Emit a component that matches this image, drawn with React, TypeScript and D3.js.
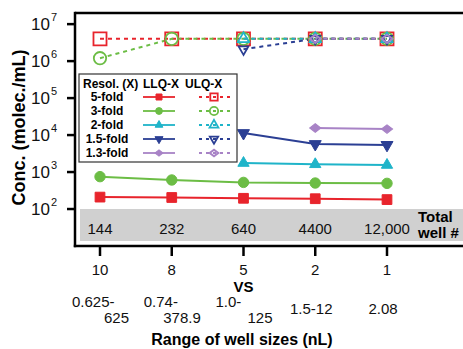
import React from 'react';
import * as d3 from 'd3';

// categories (valves per well set) and well info
const vsLabels = ['10', '8', '5', '2', '1'];
const totalWells = ['144', '232', '640', '4400', '12,000'];
const rangeLabels = [['0.625-', '625'], ['0.74-', '378.9'], ['1.0-', '125'], ['1.5-12'], ['2.08']];
const yTicks = [2, 3, 4, 5, 6, 7];

const resolutions = ['5-fold', '3-fold', '2-fold', '1.5-fold', '1.3-fold'];
const colors = ['#e8242c', '#6cbd45', '#1fb4c9', '#2b3f94', '#a883c6'];

// lower limit of quantification (null = no point)
const llq5 = [210, 205, 195, 190, 180];
const llq3 = [750, 610, 525, 505, 495];
const llq2 = [null, null, 1750, 1620, 1550];
const llq15 = [null, null, 11300, 5700, 5400];
const llq13 = [null, null, null, 15500, 14500];

// upper limit of quantification
const ulq5 = [4e6, 4e6, 4e6, 4e6, 4e6];
const ulq3 = [1.2e6, 4e6, 4e6, 4e6, 4e6];
const ulq2 = [null, null, 4e6, 4e6, 4e6];
const ulq15 = [null, null, 2.1e6, 4e6, 4e6];
const ulq13 = [null, null, null, 4e6, 4e6];

const llqSeries = [llq5, llq3, llq2, llq15, llq13];
const ulqSeries = [ulq5, ulq3, ulq2, ulq15, ulq13];

const font = '"Liberation Sans", Arial, sans-serif';

// diamond drawn as a rotated square, squashed
const symbolTypes = [d3.symbolSquare, d3.symbolCircle, d3.symbolTriangle, d3.symbolTriangle, d3.symbolSquare];
const transforms = ['', '', '', 'rotate(180)', 'scale(1.3,1) rotate(45)'];
const llqSizes = [95, 85, 55, 62, 36];
const ulqSizes = [170, 120, 55, 42, 34];
const legendLlq = [36, 36, 26, 28, 18];
const legendUlq = [55, 55, 34, 30, 22];

const Marker = ({ i, x, y, size, open }: { i: number; x: number; y: number; size: number; open: boolean }) => {
  const p = d3.symbol().type(symbolTypes[i]).size(size)() as string;
  return (
    <path
      d={p}
      transform={`translate(${x},${y}) ${transforms[i]}`}
      fill={open ? 'white' : colors[i]}
      fillOpacity={open ? 0 : 1}
      stroke={colors[i]}
      strokeWidth={open ? 1.8 : 1}
    />
  );
};

const App = () => {
  const left = 75, top = 13, right = 463, bottom = 246;
  const x = d3.scalePoint<string>().domain(vsLabels).range([100, 387]);
  const y = d3.scaleLog().domain([10, 2e7]).range([bottom, top]);

  const line = d3
    .line<[string, number | null]>()
    .defined((d) => d[1] != null)
    .x((d) => x(d[0]) as number)
    .y((d) => y(d[1] as number));

  const pts = (vals: (number | null)[]) => vsLabels.map((c, j) => [c, vals[j]] as [string, number | null]);

  return (
    <svg width={463} height={349} style={{ position: 'absolute', left: 0, top: 0, fontFamily: font }}>
      <rect width={463} height={349} fill="white" />

      {/* total well band */}
      <rect x={80} y={y(100)} width={383} height={241 - y(100)} fill="#d0d0d0" />
      {totalWells.map((t, j) => (
        <text key={t} x={x(vsLabels[j])} y={234} fontSize={15} textAnchor="middle" fill="#111">{t}</text>
      ))}
      <text x={418} y={222} fontSize={15} fontWeight="bold">Total</text>
      <text x={418} y={238} fontSize={15} fontWeight="bold">well #</text>

      {/* LLQ solid lines */}
      {llqSeries.map((s, i) => (
        <path key={'l' + i} d={line(pts(s)) as string} fill="none" stroke={colors[i]} strokeWidth={2} />
      ))}
      {llqSeries.map((s, i) =>
        s.map((v, j) => v == null ? null : (
          <Marker key={`lm${i}-${j}`} i={i} x={x(vsLabels[j]) as number} y={y(v)} size={llqSizes[i]} open={false} />
        ))
      )}

      {/* ULQ dashed lines */}
      {ulqSeries.map((s, i) => (
        <path key={'u' + i} d={line(pts(s)) as string} fill="none" stroke={colors[i]} strokeWidth={2} strokeDasharray="4,4" />
      ))}
      {ulqSeries.map((s, i) =>
        s.map((v, j) => v == null ? null : (
          <Marker key={`um${i}-${j}`} i={i} x={x(vsLabels[j]) as number} y={y(v)} size={ulqSizes[i]} open={true} />
        ))
      )}

      {/* frame */}
      <line x1={left} x2={right} y1={top} y2={top} stroke="black" strokeWidth={2.5} />
      <line x1={left} x2={left} y1={top - 1.2} y2={bottom + 1.2} stroke="black" strokeWidth={2.5} />
      <line x1={left - 1.2} x2={right} y1={bottom} y2={bottom} stroke="black" strokeWidth={2.5} />

      {/* y ticks */}
      {yTicks.map((e) => (
        <g key={e}>
          <line x1={left - 8} x2={left} y1={y(Math.pow(10, e))} y2={y(Math.pow(10, e))} stroke="black" strokeWidth={2.5} />
          <text x={50} y={y(Math.pow(10, e)) + 6} fontSize={17} textAnchor="end" fill="#111">10</text>
          <text x={51} y={y(Math.pow(10, e)) - 3} fontSize={11} textAnchor="start" fill="#111">{e}</text>
        </g>
      ))}
      <text
        transform={`translate(25,${(top + bottom) / 2 - 2}) rotate(-90)`}
        fontSize={18}
        fontWeight="bold"
        textAnchor="middle"
      >Conc. (molec./mL)</text>

      {/* x ticks */}
      {vsLabels.map((c) => (
        <g key={c}>
          <line x1={x(c)} x2={x(c)} y1={bottom} y2={bottom + 10} stroke="black" strokeWidth={2.5} />
          <text x={x(c)} y={275} fontSize={15} textAnchor="middle" fill="#111">{c}</text>
        </g>
      ))}
      <text x={x('5')} y={292} fontSize={15} fontWeight="bold" textAnchor="middle">VS</text>
      {rangeLabels.map((r, j) => {
        const cx = x(vsLabels[j]) as number;
        if (r.length === 1)
          return <text key={j} x={cx - 4} y={314} fontSize={15} textAnchor="middle" fill="#111">{r[0]}</text>;
        return (
          <g key={j}>
            <text x={cx - 28} y={307} fontSize={15} textAnchor="start" fill="#111">{r[0]}</text>
            <text x={cx + 29} y={323} fontSize={15} textAnchor="end" fill="#111">{r[1]}</text>
          </g>
        );
      })}
      <text x={242} y={345} fontSize={16} fontWeight="bold" textAnchor="middle">Range of well sizes (nL)</text>

      {/* legend */}
      <rect x={79} y={74} width={158} height={88} fill="white" stroke="#333" strokeWidth={1.2} />
      <text x={83} y={88} fontSize={12} fontWeight="bold">Resol. (X)</text>
      <text x={143} y={88} fontSize={12} fontWeight="bold">LLQ-X</text>
      <text x={185} y={88} fontSize={12} fontWeight="bold">ULQ-X</text>
      {resolutions.map((r, i) => {
        const ry = 101 + i * 14;
        return (
          <g key={r}>
            <text x={107} y={ry} fontSize={12} fontWeight="bold" textAnchor="middle">{r}</text>
            <line x1={143} x2={175} y1={ry - 4} y2={ry - 4} stroke={colors[i]} strokeWidth={1.8} />
            <Marker i={i} x={159} y={ry - 4} size={legendLlq[i]} open={false} />
            <line x1={199} x2={230} y1={ry - 4} y2={ry - 4} stroke={colors[i]} strokeWidth={2} strokeDasharray="3,4" />
            <Marker i={i} x={214} y={ry - 4} size={legendUlq[i]} open={true} />
          </g>
        );
      })}
    </svg>
  );
};

export default App;
